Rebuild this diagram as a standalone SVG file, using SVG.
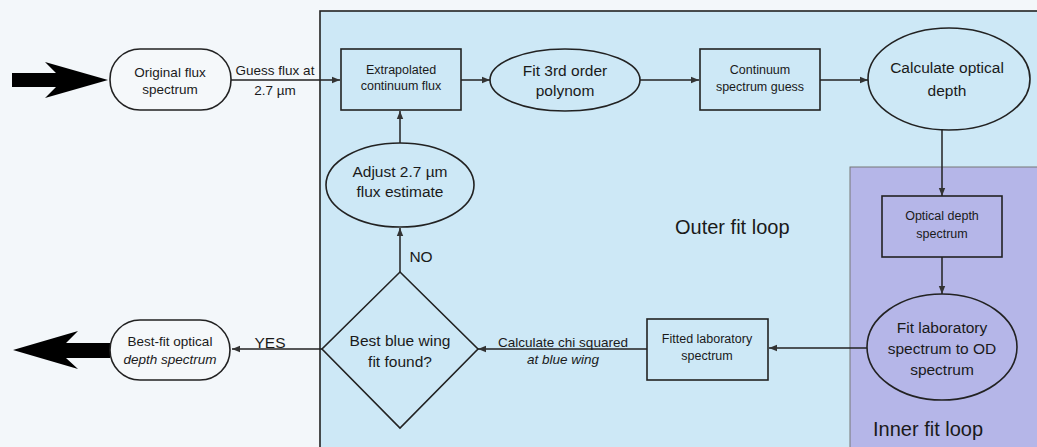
<svg xmlns="http://www.w3.org/2000/svg" width="1037" height="447" viewBox="0 0 1037 447">
<defs>
<style>
text{font-family:"Liberation Sans",Arial,sans-serif;fill:#1a1a1a;text-anchor:middle}
.n{fill:none;stroke:#222;stroke-width:1.6}
.w{fill:#f5f8fa;stroke:#222;stroke-width:1.6}
.c{fill:none;stroke:#222;stroke-width:1.5}
.s{font-size:12.5px}
.m{font-size:13.5px}
.l{font-size:15.5px}
.xl{font-size:20px;text-anchor:start}
.i{font-style:italic}
</style>
<marker id="ah" viewBox="0 0 10 10" refX="10" refY="5" markerWidth="8" markerHeight="8" markerUnits="userSpaceOnUse" orient="auto">
<path d="M0,1 L10,5 L0,9 z" fill="#333"/>
</marker>
</defs>
<rect x="0" y="0" width="1037" height="447" fill="#f3f7fa"/>
<g id="outer-loop">
<rect x="320" y="11" width="720" height="440" fill="#cde8f6" stroke="#222" stroke-width="1.6"/>
<text class="xl" x="675" y="234">Outer fit loop</text>
</g>
<g id="inner-loop">
<rect x="850" y="167" width="190" height="285" fill="#b5b6e8" stroke="#777" stroke-width="1"/>
<text class="xl" x="873" y="436">Inner fit loop</text>
</g>
<g id="connectors">
<path d="M231,80 H340" class="c" marker-end="url(#ah)"/>
<path d="M461,80 H490" class="c" marker-end="url(#ah)"/>
<path d="M640,80 H699" class="c" marker-end="url(#ah)"/>
<path d="M820,80 H868" class="c" marker-end="url(#ah)"/>
<path d="M942,129 V196" class="c" marker-end="url(#ah)"/>
<path d="M942,257 V294" class="c" marker-end="url(#ah)"/>
<path d="M867,348 H769" class="c" marker-end="url(#ah)"/>
<path d="M647,349 H478" class="c" marker-end="url(#ah)"/>
<path d="M400,272 V228" class="c" marker-end="url(#ah)"/>
<path d="M400,143 V111" class="c" marker-end="url(#ah)"/>
<path d="M322,349 H232" class="c" marker-end="url(#ah)"/>
<text class="m" x="275" y="75">Guess flux at</text>
<text class="m" x="275" y="95">2.7 µm</text>
<text class="l" x="421" y="262">NO</text>
<text class="l" x="270" y="348">YES</text>
<text class="m" x="563" y="347">Calculate chi squared</text>
<text class="m i" x="563" y="364">at blue wing</text>
</g>
<g id="input-arrow">
<polygon points="12,73 56,73 45,62 108,80 45,98 56,87 12,87" fill="#000"/>
</g>
<g id="output-arrow">
<polygon points="110,343 66,343 78,331 13,350 78,369 66,358 110,358" fill="#000"/>
</g>
<g id="original-flux">
<rect x="110" y="49" width="121" height="61" rx="30" ry="30" class="w"/>
<text class="m" x="170" y="77">Original flux</text>
<text class="m" x="170" y="94">spectrum</text>
</g>
<g id="extrapolated">
<rect x="341" y="49" width="120" height="61" class="n"/>
<text class="s" x="401" y="74">Extrapolated</text>
<text class="s" x="401" y="90">continuum flux</text>
</g>
<g id="fit-polynom">
<ellipse cx="565" cy="80" rx="75" ry="31" class="n"/>
<text class="l" x="565" y="76">Fit 3rd order</text>
<text class="l" x="565" y="96">polynom</text>
</g>
<g id="continuum-guess">
<rect x="700" y="49" width="120" height="61" class="n"/>
<text class="s" x="760" y="74">Continuum</text>
<text class="s" x="760" y="91">spectrum guess</text>
</g>
<g id="calc-od">
<ellipse cx="949" cy="79" rx="81" ry="51" class="n"/>
<text class="l" x="947" y="73">Calculate optical</text>
<text class="l" x="947" y="96">depth</text>
</g>
<g id="od-spectrum">
<rect x="882" y="196" width="120" height="61" class="n"/>
<text class="s" x="942" y="220">Optical depth</text>
<text class="s" x="942" y="238">spectrum</text>
</g>
<g id="fit-lab">
<ellipse cx="942" cy="347" rx="75" ry="53" class="n"/>
<text class="l" x="942" y="333">Fit laboratory</text>
<text class="l" x="942" y="354">spectrum to OD</text>
<text class="l" x="942" y="375">spectrum</text>
</g>
<g id="fitted-lab">
<rect x="647" y="319" width="121" height="61" class="n"/>
<text class="s" x="707" y="343">Fitted laboratory</text>
<text class="s" x="707" y="360">spectrum</text>
</g>
<g id="best-fit-decision">
<polygon points="400,272 478,349 400,428 322,349" class="n"/>
<text class="l" x="400" y="346">Best blue wing</text>
<text class="l" x="400" y="367">fit found?</text>
</g>
<g id="adjust">
<ellipse cx="400" cy="185" rx="74" ry="42" class="n"/>
<text class="l" x="400" y="177">Adjust 2.7 µm</text>
<text class="l" x="400" y="197">flux estimate</text>
</g>
<g id="best-fit-output">
<rect x="110" y="320" width="120" height="60" rx="30" ry="30" class="w"/>
<text class="m" x="170" y="346">Best-fit optical</text>
<text class="m i" x="170" y="364">depth spectrum</text>
</g>
</svg>
